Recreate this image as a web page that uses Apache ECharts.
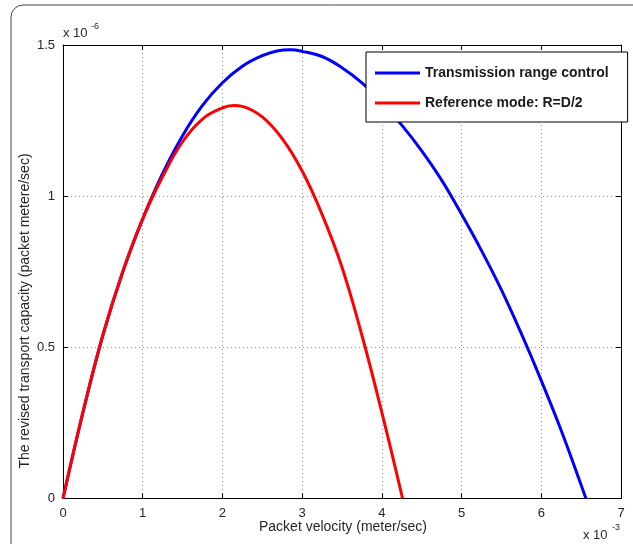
<!DOCTYPE html>
<html>
<head>
<meta charset="utf-8">
<script src="https://cdn.jsdelivr.net/npm/echarts@6/dist/echarts.min.js"></script>
<style>
  html,body{margin:0;padding:0;background:#fff;}
  #chartContain{width:633px;height:544px;}
</style>
</head>
<body>
<div id="chartContain"></div>
<script>
// x in 1e-3 meter/sec, y in 1e-6 packet metere/sec
var blueX = [0, 0.25, 0.5, 0.75, 1.0, 1.25, 1.5, 1.75, 2.0, 2.25, 2.5, 2.7, 2.85, 3.0, 3.25, 3.5, 3.75, 4.0, 4.25, 4.5, 4.75, 5.0, 5.25, 5.5, 5.75, 6.0, 6.25, 6.5, 6.56];
var blueY = [0, 0.285, 0.54, 0.75, 0.925, 1.075, 1.2, 1.3, 1.375, 1.43, 1.465, 1.481, 1.484, 1.479, 1.462, 1.425, 1.375, 1.31, 1.235, 1.15, 1.053, 0.94, 0.82, 0.69, 0.545, 0.39, 0.225, 0.045, 0];
var redX = [0, 0.25, 0.5, 0.75, 1.0, 1.25, 1.5, 1.75, 2.0, 2.14, 2.25, 2.5, 2.75, 3.0, 3.25, 3.5, 3.75, 4.0, 4.26];
var redY = [0, 0.285, 0.54, 0.75, 0.925, 1.065, 1.18, 1.255, 1.292, 1.300, 1.297, 1.262, 1.19, 1.083, 0.94, 0.765, 0.54, 0.285, 0];
var xTicks = [0, 1, 2, 3, 4, 5, 6, 7];
var yTicks = [0, 0.5, 1, 1.5];
var seriesNames = ['Transmission range control', 'Reference mode: R=D/2'];

function pairs(xs, ys){
  var out = [];
  for (var i = 0; i < xs.length; i++) out.push([xs[i], ys[i]]);
  return out;
}

var font = 'Liberation Sans, Arial, Helvetica, sans-serif';
var chart = echarts.init(document.getElementById('chartContain'));

var gridLine = {show:true, lineStyle:{color:'#8c8c8c', type:[1,3], width:1}};
var tickIn = {show:true, inside:true, length:5, lineStyle:{color:'#000'}};

var option = {
  animation:false,
  backgroundColor:'#fff',
  grid:{left:63, right:12, top:45, bottom:45.5},
  legend:{
    orient:'vertical',
    left:366, top:52,
    padding:[14, 19, 12, 9],
    itemGap:16,
    itemWidth:45, itemHeight:3,
    icon:'rect',
    backgroundColor:'#fff',
    borderColor:'#000', borderWidth:1,
    textStyle:{fontFamily:font, fontSize:14, fontWeight:'bold', color:'#1a1a1a'},
    data:seriesNames
  },
  xAxis:[{
    type:'value', min:0, max:7, interval:1,
    axisLine:{show:true, onZero:false, lineStyle:{color:'#000', width:1}},
    axisTick:tickIn,
    axisLabel:{fontFamily:font, fontSize:13, color:'#262626', margin:8,
      formatter:function(v){ return xTicks.indexOf(v) >= 0 ? String(v) : ''; }},
    splitLine:gridLine
  },{
    type:'value', min:0, max:7, interval:1, position:'top',
    axisLine:{show:true, onZero:false, lineStyle:{color:'#000', width:1}},
    axisTick:tickIn, axisLabel:{show:false}, splitLine:{show:false}
  }],
  yAxis:[{
    type:'value', min:0, max:1.5, interval:0.5,
    axisLine:{show:true, onZero:false, lineStyle:{color:'#000', width:1}},
    axisTick:tickIn,
    axisLabel:{fontFamily:font, fontSize:13, color:'#262626', margin:8,
      formatter:function(v){ return yTicks.indexOf(v) >= 0 ? String(v) : ''; }},
    splitLine:gridLine
  },{
    type:'value', min:0, max:1.5, interval:0.5, position:'right',
    axisLine:{show:true, onZero:false, lineStyle:{color:'#000', width:1}},
    axisTick:tickIn, axisLabel:{show:false}, splitLine:{show:false}
  }],
  series:[{
    name:seriesNames[0], type:'line', smooth:0.4, showSymbol:false,
    data:pairs(blueX, blueY),
    lineStyle:{color:'#0000ff', width:3}, itemStyle:{color:'#0000ff'}
  },{
    name:seriesNames[1], type:'line', smooth:0.4, showSymbol:false,
    data:pairs(redX, redY),
    lineStyle:{color:'#ff0000', width:3}, itemStyle:{color:'#ff0000'}
  }],
  graphic:[
    {type:'rect', shape:{x:11, y:5, width:700, height:600, r:12}, silent:true, z:-10,
      style:{fill:'none', stroke:'#444', lineWidth:1}},
    {type:'text', x:63, y:27, style:{text:'x 10', font:'13px ' + font, fill:'#262626'}},
    {type:'text', x:91, y:22, style:{text:'-6', font:'9px ' + font, fill:'#262626'}},
    {type:'text', x:583, y:529, style:{text:'x 10', font:'13px ' + font, fill:'#262626'}},
    {type:'text', x:612, y:523, style:{text:'-3', font:'9px ' + font, fill:'#262626'}},
    {type:'text', x:343, y:527, style:{text:'Packet velocity (meter/sec)', font:'14px ' + font, fill:'#262626', align:'center', verticalAlign:'middle'}},
    {type:'text', x:25, y:311, rotation:Math.PI/2,
      style:{text:'The revised transport capacity (packet metere/sec)', font:'14px ' + font, fill:'#262626', align:'center', verticalAlign:'middle'}}
  ]
};
chart.setOption(option);
</script>
</body>
</html>
